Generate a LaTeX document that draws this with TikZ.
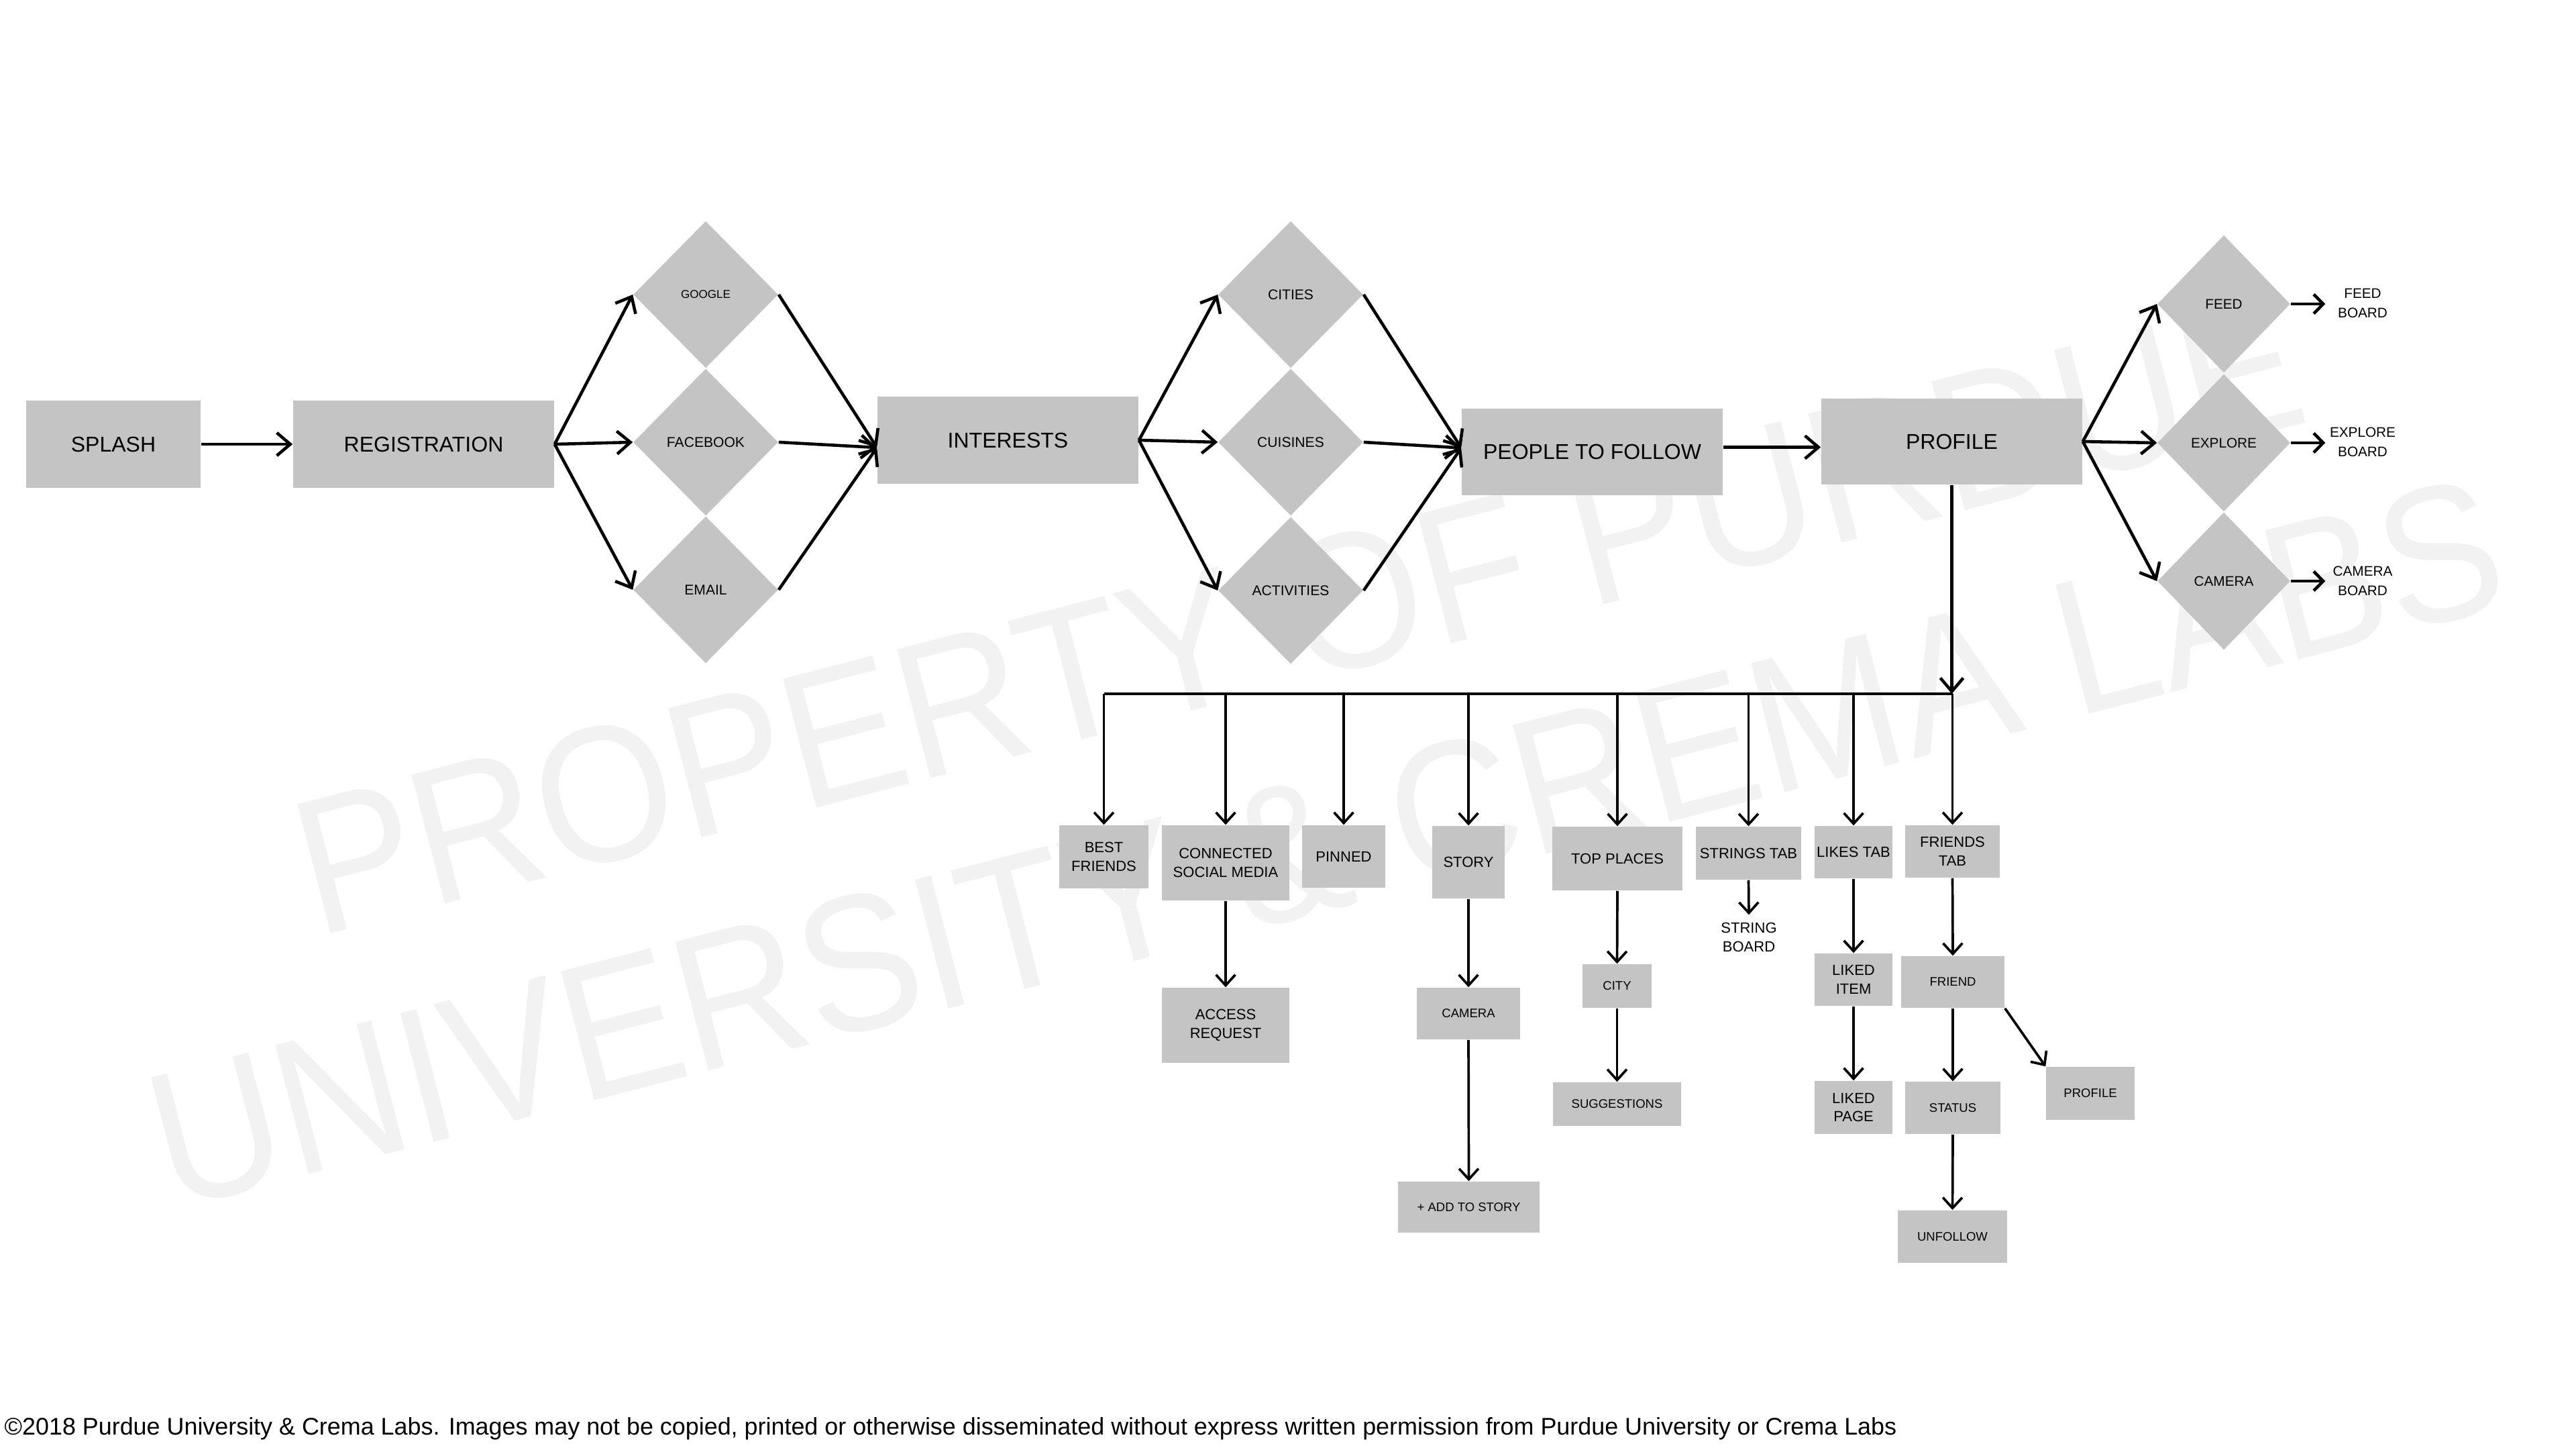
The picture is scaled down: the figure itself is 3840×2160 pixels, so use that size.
\documentclass[tikz,border=0pt]{standalone}
\usepackage{fontspec}
\setmainfont{Liberation Sans}
\usetikzlibrary{arrows.meta,shapes.geometric,calc}
\definecolor{boxgray}{RGB}{196,196,196}
\definecolor{wmgray}{RGB}{242,242,242}
\begin{document}
\begin{tikzpicture}[x=0.01cm,y=-0.01cm,
  box/.style={fill=boxgray,inner sep=0pt,align=center},
  bigtxt/.style={font=\fontsize{9.1}{11}\selectfont},
  medtxt/.style={font=\fontsize{6.26}{7.9}\selectfont},
  smltxt/.style={font=\fontsize{5.26}{6.6}\selectfont},
  diatxt/.style={font=\fontsize{6}{7.5}\selectfont},
  dia/.style={diamond,fill=boxgray,inner sep=0pt,align=center,minimum width=2.16cm,minimum height=2.19cm},
  rdia/.style={diamond,fill=boxgray,inner sep=0pt,align=center,minimum width=1.98cm,minimum height=2.05cm,font=\fontsize{5.9}{7.5}\selectfont},
  boardtxt/.style={inner sep=0pt,align=center,minimum width=1.10cm,font=\fontsize{5.9}{8.1}\selectfont},
  wm/.style={text=wmgray,inner sep=0pt,font=\fontsize{82}{82}\selectfont},
  mainarr/.style={line width=1.3pt,-{Straight Barb[length=5.7pt,width=9.7pt]}},
  smallarr/.style={line width=1.3pt,-{Straight Barb[length=4pt,width=8.2pt]}},
  subarr/.style={line width=1.05pt,-{Straight Barb[length=4.5pt,width=8.2pt]}},
  subline/.style={line width=1.05pt},
]
\useasboundingbox (0,0) rectangle (3840,2160);
\fill[white] (0,0) rectangle (3840,2160);

% watermark
\node[wm,rotate=14.5,anchor=base] (wm1) at (1960,1012) {\scalebox{0.915}[1]{PROPERTY OF PURDUE}};
\node[wm,rotate=14.5,anchor=base] (wm2) at (2001,1352) {\scalebox{0.915}[1]{UNIVERSITY \& CREMA LABS}};

% main row
\node[box,bigtxt,minimum width=2.60cm,minimum height=1.30cm] (splash) at (169,662) {SPLASH};
\node[box,bigtxt,minimum width=3.89cm,minimum height=1.30cm] (reg) at (631.5,662) {REGISTRATION};
\node[box,bigtxt,minimum width=3.89cm,minimum height=1.30cm] (interests) at (1502.5,656) {INTERESTS};
\node[box,bigtxt,minimum width=3.89cm,minimum height=1.29cm] (people) at (2373.5,673.5) {PEOPLE TO FOLLOW};
\node[box,bigtxt,minimum width=3.89cm,minimum height=1.28cm] (profile) at (2909.5,658) {PROFILE};

% diamonds
\node[dia] (google) at (1052,439) {\fontsize{4.85}{6}\selectfont GOOGLE};
\node[dia,diatxt] (facebook) at (1052,659) {FACEBOOK};
\node[dia,diatxt] (email) at (1052,879) {EMAIL};
\node[dia,diatxt] (cities) at (1924,439) {CITIES};
\node[dia,diatxt] (cuisines) at (1924,659) {CUISINES};
\node[dia,diatxt] (activities) at (1924,880) {ACTIVITIES};
\node[rdia] (feed) at (3315,453) {FEED};
\node[rdia] (explore) at (3315,660) {EXPLORE};
\node[rdia] (camera) at (3315,866) {CAMERA};

\node[boardtxt] (feedb) at (3522,452) {FEED\\BOARD};
\node[boardtxt] (exploreb) at (3522,659) {EXPLORE\\BOARD};
\node[boardtxt] (camerab) at (3522,866) {CAMERA\\BOARD};

% main arrows
\draw[mainarr] (splash) -- (reg);
\draw[mainarr] (reg.east) -- (google.west);
\draw[mainarr] (reg.east) -- (facebook.west);
\draw[mainarr] (reg.east) -- (email.west);
\coordinate (intin) at ([yshift=-0.11cm]interests.west);
\draw[mainarr] (google.east) -- (intin);
\draw[mainarr] (facebook.east) -- (intin);
\draw[mainarr] (email.east) -- (intin);
\draw[mainarr] (interests.east) -- (cities.west);
\draw[mainarr] (interests.east) -- (cuisines.west);
\draw[mainarr] (interests.east) -- (activities.west);
\coordinate (pplin) at ([yshift=0.06cm]people.west);
\draw[mainarr] (cities.east) -- (pplin);
\draw[mainarr] (cuisines.east) -- (pplin);
\draw[mainarr] (activities.east) -- (pplin);
\coordinate (pplout) at ([yshift=0.07cm]people.east);
\draw[mainarr] (pplout) -- (pplout -| profile.west);
\draw[mainarr] (profile.east) -- (feed.west);
\draw[mainarr] (profile.east) -- (explore.west);
\draw[mainarr] (profile.east) -- (camera.west);
\draw[smallarr] (feed.east) -- (feed.east -| feedb.west);
\draw[smallarr] (explore.east) -- (explore.east -| exploreb.west);
\draw[smallarr] (camera.east) -- (camera.east -| camerab.west);

% lower tree boxes
\node[box,medtxt,minimum width=1.33cm,minimum height=0.94cm] (bestf) at (1645.5,1277) {BEST\\FRIENDS};
\node[box,medtxt,minimum width=1.90cm,minimum height=1.12cm] (csm) at (1827,1286) {CONNECTED\\SOCIAL MEDIA};
\node[box,medtxt,minimum width=1.24cm,minimum height=0.93cm] (pinned) at (2003,1276.5) {PINNED};
\node[box,medtxt,minimum width=1.08cm,minimum height=1.08cm] (story) at (2189,1285) {STORY};
\node[box,medtxt,minimum width=1.94cm,minimum height=0.95cm] (topp) at (2411,1279.5) {TOP PLACES};
\node[box,medtxt,minimum width=1.57cm,minimum height=0.79cm] (strings) at (2606.5,1271.5) {STRINGS TAB};
\node[box,medtxt,minimum width=1.16cm,minimum height=0.78cm] (likes) at (2763,1270) {LIKES TAB};
\node[box,medtxt,minimum width=1.41cm,minimum height=0.78cm] (friendst) at (2910.5,1269) {FRIENDS\\TAB};

\node[box,medtxt,minimum width=1.90cm,minimum height=1.12cm] (access) at (1827,1528) {ACCESS\\REQUEST};
\node[box,smltxt,minimum width=1.54cm,minimum height=0.77cm] (camera2) at (2189,1510.5) {CAMERA};
\node[box,smltxt,minimum width=2.11cm,minimum height=0.76cm] (addstory) at (2189.5,1799) {+ ADD TO STORY};
\node[box,smltxt,minimum width=1.03cm,minimum height=0.65cm] (city) at (2410.5,1469.5) {CITY};
\node[box,smltxt,minimum width=1.91cm,minimum height=0.65cm] (sugg) at (2410.5,1645.5) {SUGGESTIONS};
\node[medtxt,align=center,inner sep=0pt,minimum height=0.66cm] (stringb) at (2607,1397) {STRING\\BOARD};
\node[box,medtxt,minimum width=1.16cm,minimum height=0.78cm] (likeditem) at (2763,1460) {LIKED\\ITEM};
\node[box,medtxt,minimum width=1.16cm,minimum height=0.79cm] (likedpage) at (2763,1650.5) {LIKED\\PAGE};
\node[box,smltxt,minimum width=1.54cm,minimum height=0.77cm] (friend) at (2911,1463.5) {FRIEND};
\node[box,smltxt,minimum width=1.42cm,minimum height=0.78cm] (status) at (2911,1651) {STATUS};
\node[box,smltxt,minimum width=1.63cm,minimum height=0.78cm] (unfollow) at (2910.5,1843) {UNFOLLOW};
\node[box,smltxt,minimum width=1.32cm,minimum height=0.79cm] (profile2) at (3116,1629.5) {PROFILE};

% tree connectors
\coordinate (bus) at (2910.5,1034);
\draw[mainarr] (profile.south) -- (profile.south |- bus);
\draw[subline] (bestf.north |- bus) -- (bus);
\draw[subarr] (bestf.north |- bus) -- (bestf.north);
\draw[subarr] (csm.north |- bus) -- (csm.north);
\draw[subarr] (pinned.north |- bus) -- (pinned.north);
\draw[subarr] (story.north |- bus) -- (story.north);
\draw[subarr] (topp.north |- bus) -- (topp.north);
\draw[subarr] (strings.north |- bus) -- (strings.north);
\draw[subarr] (likes.north |- bus) -- (likes.north);
\draw[subarr] (friendst.north |- bus) -- (friendst.north);

\draw[subarr] (csm.south) -- (access.north);
\draw[subarr] (story.south) -- (camera2.north);
\draw[subarr] (camera2.south) -- (addstory.north);
\draw[subarr] (topp.south) -- (city.north);
\draw[subarr] (city.south) -- (sugg.north);
\draw[subarr] (strings.south) -- (stringb.north);
\draw[subarr] (likes.south) -- (likeditem.north);
\draw[subarr] (likeditem.south) -- (likedpage.north);
\draw[subarr] (friendst.south) -- (friend.north);
\draw[subarr] (friend.south) -- (status.north);
\draw[subarr] (status.south) -- (unfollow.north);
\draw[subarr] (friend.south east) -- (profile2.north west);

% footer
\node[anchor=base west,inner sep=0pt] (footer) at (6,2138) {\resizebox{28.19cm}{!}{\fontsize{10}{12}\selectfont ©2018 Purdue University \& Crema Labs. Images may not be copied, printed or otherwise disseminated without express written permission from Purdue University or Crema Labs}};
\end{tikzpicture}
\end{document}
